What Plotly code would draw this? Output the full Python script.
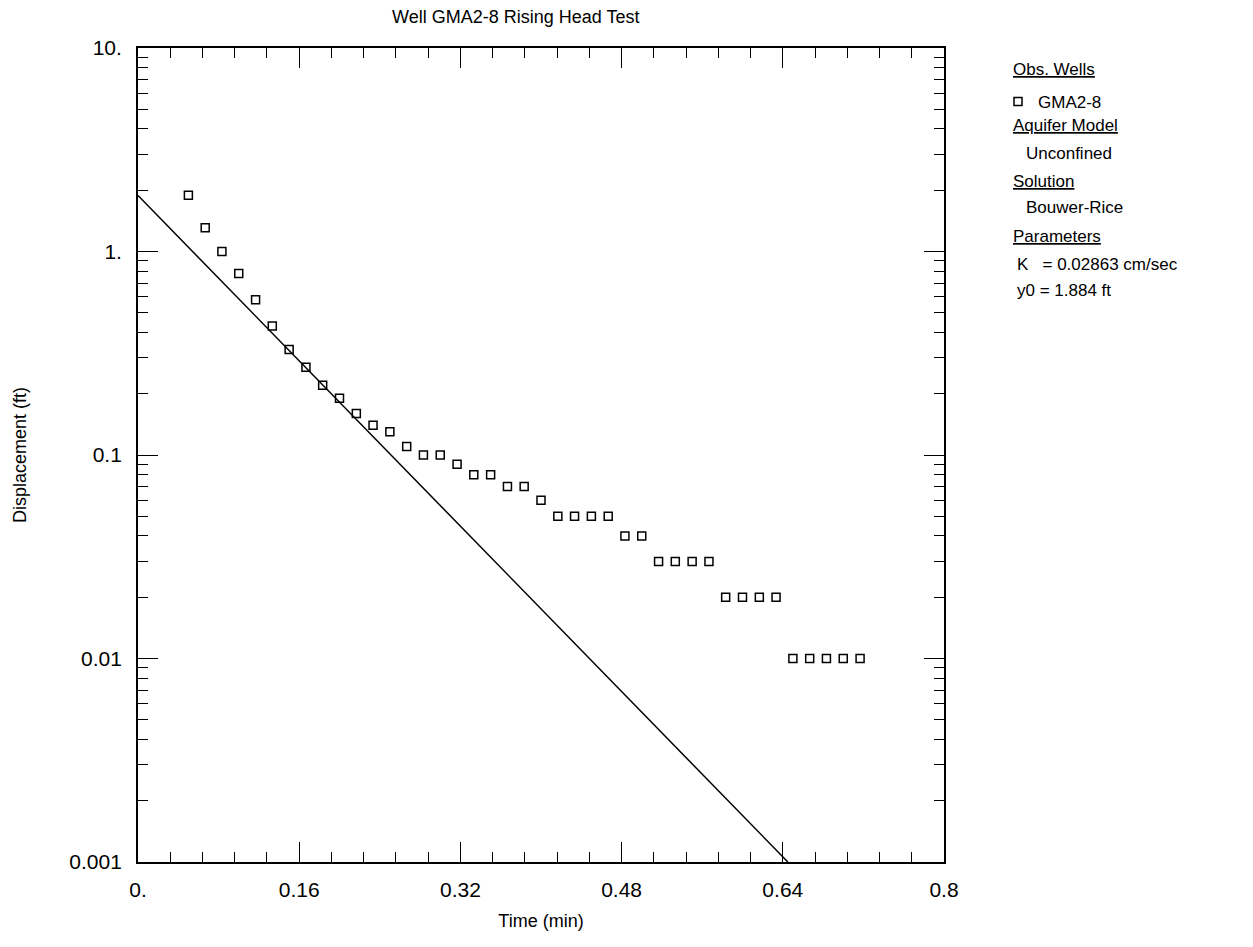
import plotly.graph_objects as go

# Observed displacement, well GMA2-8 (time in minutes, displacement in feet)
time_min = [
    0.0500, 0.0667, 0.0833, 0.1000, 0.1167, 0.1333, 0.1500, 0.1667, 0.1833, 0.2000,
    0.2167, 0.2333, 0.2500, 0.2667, 0.2833, 0.3000, 0.3167, 0.3333, 0.3500, 0.3667,
    0.3833, 0.4000, 0.4167, 0.4333, 0.4500, 0.4667, 0.4833, 0.5000, 0.5167, 0.5333,
    0.5500, 0.5667, 0.5833, 0.6000, 0.6167, 0.6333, 0.6500, 0.6667, 0.6833, 0.7000,
    0.7167,
]
displacement_ft = [
    1.89, 1.31, 1.00, 0.78, 0.58, 0.43, 0.33, 0.27, 0.22, 0.19,
    0.16, 0.14, 0.13, 0.11, 0.10, 0.10, 0.09, 0.08, 0.08, 0.07,
    0.07, 0.06, 0.05, 0.05, 0.05, 0.05, 0.04, 0.04, 0.03, 0.03,
    0.03, 0.03, 0.02, 0.02, 0.02, 0.02, 0.01, 0.01, 0.01, 0.01,
    0.01,
]

# Bouwer-Rice straight-line solution (y0 = 1.884 ft at t = 0)
fit_time = [0.0, 0.645]
fit_disp = [1.884, 0.001]

x_tickvals = [0.0, 0.16, 0.32, 0.48, 0.64, 0.8]
x_ticktext = ["0.", "0.16", "0.32", "0.48", "0.64", "0.8"]
y_tickvals = [0.001, 0.01, 0.1, 1, 10]
y_ticktext = ["0.001", "0.01", "0.1", "1.", "10."]

FONT = "Liberation Sans, Arial, sans-serif"
W, H = 1253, 947
L, R, T, B = 138, 944, 48, 862  # plot-area edges in pixels


def px(x):
    return (x - L) / (R - L)


def py(y):
    return (B - y) / (B - T)


fig = go.Figure()
fig.add_trace(go.Scatter(
    x=fit_time, y=fit_disp, mode="lines",
    line=dict(color="black", width=1.5),
    showlegend=False, hoverinfo="skip",
))
fig.add_trace(go.Scatter(
    x=time_min, y=displacement_ft, mode="markers", name="GMA2-8",
    marker=dict(symbol="square-open", size=8, color="black", line=dict(width=1.5)),
))

axis_common = dict(
    showgrid=False, zeroline=False, showline=True, linecolor="black", linewidth=1.8,
    mirror="ticks", ticks="inside", tickcolor="black", tickwidth=1.3, ticklen=20,
    tickfont=dict(family=FONT, size=21, color="black"),
)

fig.update_xaxes(
    range=[0, 0.8], tickvals=x_tickvals, ticktext=x_ticktext,
    minor=dict(dtick=0.032, tick0=0, ticks="inside", ticklen=10, tickcolor="black", tickwidth=1.3),
    title=dict(text="Time (min)", font=dict(family=FONT, size=18, color="black"), standoff=14),
    ticklabelstandoff=8,
    **axis_common,
)
fig.update_yaxes(
    type="log", range=[-3, 1], tickvals=y_tickvals, ticktext=y_ticktext,
    minor=dict(ticks="inside", ticklen=10, tickcolor="black", tickwidth=1.3, dtick="D1"),
    title=dict(text="Displacement (ft)", font=dict(family=FONT, size=18, color="black"), standoff=38),
    ticklabelstandoff=10,
    **axis_common,
)

annotations = [
    dict(text="Well GMA2-8 Rising Head Test", x=px(515), y=py(17), xanchor="center", yanchor="middle",
         font=dict(family=FONT, size=18, color="black")),
    dict(text="<u>Obs. Wells</u>", x=px(1011), y=py(70)),
    dict(text="<u>Aquifer Model</u>", x=px(1011), y=py(125)),
    dict(text="Unconfined", x=px(1024), y=py(153)),
    dict(text="<u>Solution</u>", x=px(1011), y=py(181)),
    dict(text="Bouwer-Rice", x=px(1024), y=py(208)),
    dict(text="<u>Parameters</u>", x=px(1011), y=py(236)),
    dict(text="K   = 0.02863 cm/sec", x=px(1015), y=py(264)),
    dict(text="y0 = 1.884 ft", x=px(1015), y=py(290)),
]
for a in annotations:
    a.setdefault("xanchor", "left")
    a.setdefault("yanchor", "middle")
    a.setdefault("font", dict(family=FONT, size=17, color="black"))
    a.update(xref="paper", yref="paper", showarrow=False)

fig.update_layout(
    width=W, height=H,
    margin=dict(l=L, r=W - R, t=T, b=H - B),
    paper_bgcolor="white", plot_bgcolor="white",
    annotations=annotations,
    legend=dict(x=px(998), y=py(84), xanchor="left", yanchor="top",
                font=dict(family=FONT, size=17, color="black"),
                bgcolor="rgba(0,0,0,0)", itemwidth=30, tracegroupgap=0),
)

fig.write_html("out.html")
